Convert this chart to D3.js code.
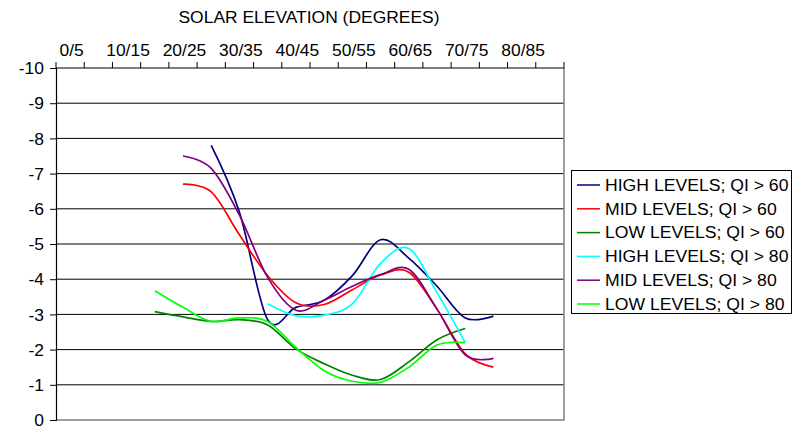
<!DOCTYPE html>
<html>
<head>
<meta charset="utf-8">
<script src="https://cdn.jsdelivr.net/npm/d3@7"></script>
<style>
  html, body { margin: 0; padding: 0; background: #fff; }
  svg { display: block; font-family: "Liberation Sans", Arial, sans-serif; }
</style>
</head>
<body>
<svg id="chart" width="794" height="432"></svg>
<script>
// Solar elevation bins (5 degree classes)
const categories = ["0/5","5/10","10/15","15/20","20/25","25/30","30/35","35/40","40/45",
                    "45/50","50/55","55/60","60/65","65/70","70/75","75/80","80/85","85/90"];
const labelledCategories = ["0/5","10/15","20/25","30/35","40/45","50/55","60/65","70/75","80/85"];
const yTicks = [0,-1,-2,-3,-4,-5,-6,-7,-8,-9,-10];

const seriesNames = ["HIGH LEVELS; QI > 60","MID LEVELS; QI > 60","LOW LEVELS; QI > 60",
                     "HIGH LEVELS; QI > 80","MID LEVELS; QI > 80","LOW LEVELS; QI > 80"];
const seriesColors = ["#000080","#ff0000","#008000","#00ffff","#800080","#00ff00"];

const highQI60 = [null,null,null,null,null,-7.8,-5.9,-2.85,-3.2,-3.4,-4.1,-5.12,-4.6,-3.8,-2.9,-2.95,null,null];
const midQI60  = [null,null,null,null,-6.7,-6.48,-5.26,-4.1,-3.33,-3.28,-3.7,-4.12,-4.2,-3.15,-1.88,-1.5,null,null];
const lowQI60  = [null,null,null,-3.08,-2.93,-2.8,-2.85,-2.7,-2.02,-1.6,-1.27,-1.15,-1.65,-2.28,-2.6,null,null,null];
const highQI80 = [null,null,null,null,null,null,null,-3.3,-2.96,-2.98,-3.3,-4.45,-4.87,-3.62,-2.2,null,null,null];
const midQI80  = [null,null,null,null,-7.5,-7.15,-5.82,-4.05,-3.12,-3.4,-3.8,-4.13,-4.28,-3.15,-1.85,-1.75,null,null];
const lowQI80  = [null,null,null,-3.67,-3.2,-2.8,-2.9,-2.8,-2.06,-1.4,-1.1,-1.07,-1.5,-2.13,-2.2,null,null,null];

const seriesValues = [highQI60, midQI60, lowQI60, highQI80, midQI80, lowQI80];

const svg = d3.select("#chart");
const plot = { left: 56, right: 564, top: 68, bottom: 420 };

const x = d3.scaleBand().domain(categories).range([plot.left, plot.right]).padding(0);
const y = d3.scaleLinear().domain([0, -10]).range([plot.bottom, plot.top]);

// Slightly wide lettering
function stretch(sel, k) {
  sel.each(function () {
    const w = this.getComputedTextLength();
    d3.select(this).attr("textLength", w * k).attr("lengthAdjust", "spacingAndGlyphs");
  });
}

// Title
svg.append("text")
  .attr("x", 309).attr("y", 22.5)
  .attr("text-anchor", "middle")
  .attr("font-size", 16).attr("fill", "#000")
  .text("SOLAR ELEVATION (DEGREES)")
  .call(stretch, 1.09);

// Horizontal gridlines
svg.append("g").selectAll("line")
  .data(yTicks.filter(d => d !== 0 && d !== -10))
  .join("line")
  .attr("x1", plot.left).attr("x2", plot.right)
  .attr("y1", d => y(d)).attr("y2", d => y(d))
  .attr("stroke", "#000").attr("stroke-width", 1);

// Plot-area border (right and bottom)
svg.append("path")
  .attr("d", `M${plot.right},${plot.top}V${plot.bottom}H${plot.left}`)
  .attr("fill", "none").attr("stroke", "#808080").attr("stroke-width", 1.5);

// Left value axis
const yAxis = svg.append("g")
  .attr("transform", `translate(${plot.left},0)`)
  .call(d3.axisLeft(y).tickValues(yTicks).tickSize(6).tickPadding(6).tickFormat(d => String(d)));
yAxis.select(".domain").attr("stroke", "#000").attr("stroke-width", 1.2);
yAxis.selectAll(".tick line").attr("stroke", "#000");
yAxis.selectAll(".tick text")
  .attr("font-size", 16).attr("font-family", "Liberation Sans, Arial, sans-serif").attr("fill", "#000")
  .attr("dy", "0.36em")
  .call(stretch, 1.09);

// Top category axis: line, boundary ticks and labels
const topAxis = svg.append("g");
topAxis.append("line")
  .attr("x1", plot.left).attr("x2", plot.right)
  .attr("y1", plot.top).attr("y2", plot.top)
  .attr("stroke", "#000").attr("stroke-width", 1.2);
const boundaries = categories.map(c => x(c)).concat([x.range()[1]]);
topAxis.selectAll("line.tick")
  .data(boundaries)
  .join("line")
  .attr("class", "tick")
  .attr("x1", d => d).attr("x2", d => d)
  .attr("y1", plot.top).attr("y2", plot.top - 6)
  .attr("stroke", "#000");
topAxis.selectAll("text")
  .data(labelledCategories)
  .join("text")
  .attr("x", d => x(d) + x.bandwidth() / 2 + 1.5)
  .attr("y", 56)
  .attr("text-anchor", "middle")
  .attr("font-size", 16).attr("fill", "#000")
  .text(d => d)
  .call(stretch, 1.09);

// Series lines (smoothed)
const line = d3.line()
  .defined(d => d.v !== null)
  .x(d => x(d.c) + x.bandwidth() / 2)
  .y(d => y(d.v))
  .curve(d3.curveCardinal.tension(0));

svg.append("g").selectAll("path")
  .data(seriesValues.map((vals, i) => ({
    color: seriesColors[i],
    pts: categories.map((c, j) => ({ c, v: vals[j] })).filter(p => p.v !== null)
  })))
  .join("path")
  .attr("d", d => line(d.pts))
  .attr("fill", "none")
  .attr("stroke", d => d.color)
  .attr("stroke-width", 1.7)
  .attr("stroke-linejoin", "round");

// Legend
const legend = svg.append("g");
legend.append("rect")
  .attr("x", 571.5).attr("y", 170.5).attr("width", 220).attr("height", 143)
  .attr("fill", "#fff").attr("stroke", "#000").attr("stroke-width", 1);
const rows = legend.selectAll("g.row")
  .data(seriesNames.map((n, i) => ({ name: n, color: seriesColors[i], i })))
  .join("g").attr("class", "row")
  .attr("transform", d => `translate(0,${185 + d.i * 23.8})`);
rows.append("line")
  .attr("x1", 577).attr("x2", 600).attr("y1", 0).attr("y2", 0)
  .attr("stroke", d => d.color).attr("stroke-width", 1.5);
rows.append("text")
  .attr("x", 605).attr("y", 0).attr("dy", "0.36em")
  .attr("font-size", 16).attr("fill", "#000")
  .text(d => d.name)
  .call(stretch, 1.1);
</script>
</body>
</html>
